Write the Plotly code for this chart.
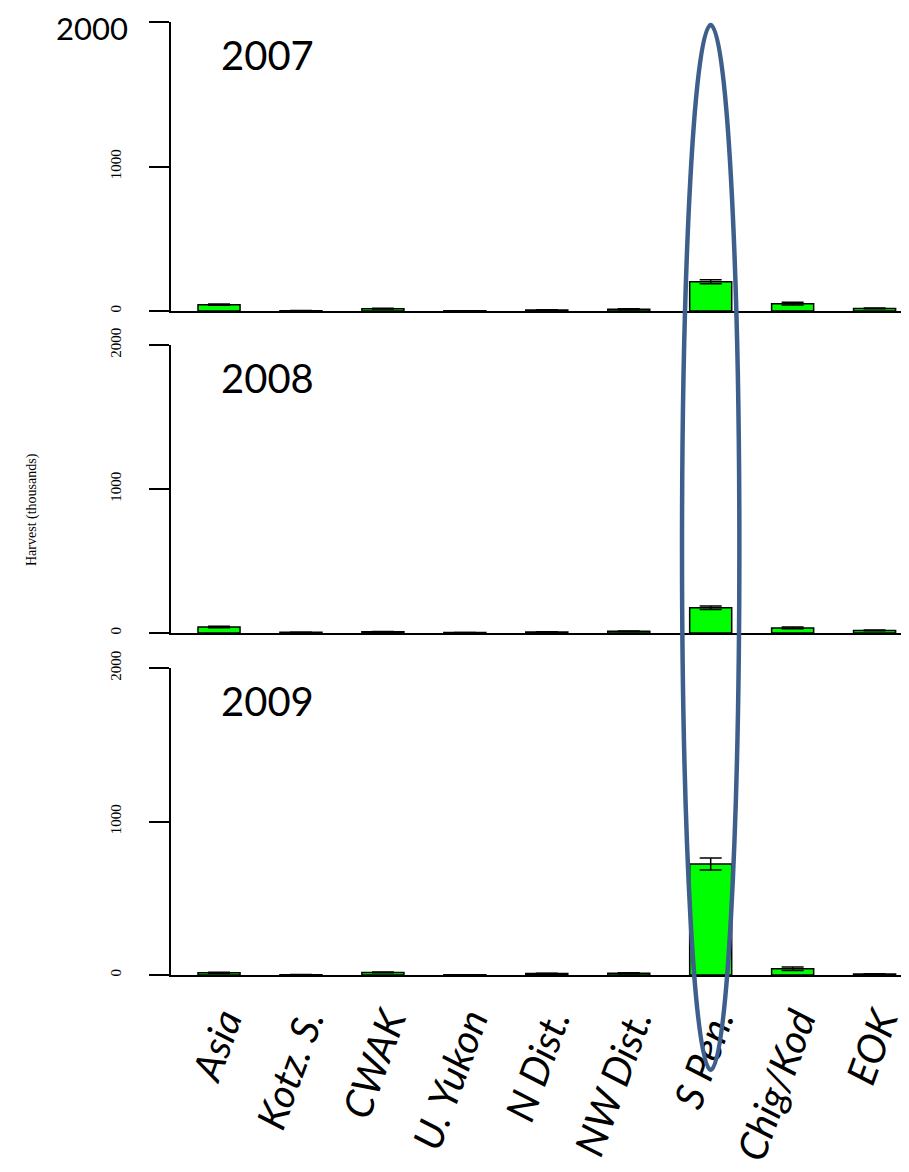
import plotly.graph_objects as go

categories = ["Asia", "Kotz. S.", "CWAK", "U. Yukon", "N Dist.", "NW Dist.", "S Pen.", "Chig/Kod", "EOK"]
years = ["2007", "2008", "2009"]
harvest_2007 = [44, 2, 16, 1, 7, 12, 203, 51, 18]
err_2007 = [5, 1, 3, 1, 2, 3, 14, 9, 3]
harvest_2008 = [42, 5, 9, 3, 7, 12, 176, 35, 18]
err_2008 = [5, 1, 2, 1, 2, 2, 12, 6, 3]
harvest_2009 = [15, 2, 17, 1, 9, 11, 723, 41, 6]
err_2009 = [3, 1, 3, 1, 2, 3, 39, 11, 2]
y_tick_vals = [0, 1000, 2000]
y_tick_text = ["0", "1000", "2000"]
y_title = "Harvest (thousands)"
highlight = "S Pen."

# page body has an 8px margin; size the figure so it fills the window
OFF = 8
W, H = 909 - OFF, 1172 - OFF


def px_x(x):
    return (x - OFF) / W


def px_y(y):
    return (H - (y - OFF)) / H


series = [harvest_2007, harvest_2008, harvest_2009]
errors = [err_2007, err_2008, err_2009]
# panel pixel positions (y of 2000, y of 0) in window pixels
panels_px = [(22, 311), (345, 633), (668, 975)]

fig = go.Figure()
for i, (vals, errs) in enumerate(zip(series, errors)):
    n = "" if i == 0 else str(i + 1)
    fig.add_trace(go.Bar(
        x=categories, y=vals,
        xaxis="x" + n, yaxis="y" + n,
        marker=dict(color="#00FF00", line=dict(color="black", width=1.5)),
        error_y=dict(type="data", array=errs, color="black", thickness=1.5, width=11),
        showlegend=False,
    ))

x_left, x_right = 171, 909
xrange = [-0.586, 8.42]
layout = dict(
    width=W, height=H,
    margin=dict(l=0, r=0, t=0, b=0, autoexpand=False),
    paper_bgcolor="white", plot_bgcolor="white",
    bargap=0.487,
    showlegend=False,
)
annotations = []
for i, (top, bot) in enumerate(panels_px):
    n = "" if i == 0 else str(i + 1)
    ydom = [px_y(bot), px_y(top)]
    last = i == 2
    layout["xaxis" + n] = dict(
        domain=[px_x(x_left), min(1.0, px_x(x_right))], range=xrange, anchor="y" + n,
        type="category", showline=True, linecolor="black", linewidth=1.5,
        ticks="", showgrid=False, zeroline=False, automargin=False,
        showticklabels=last, tickangle=-70,
        tickfont=dict(family="Lato", size=40, color="black", style="italic"),
        ticklabelstandoff=5, ticklabelshift=5,
    )
    ttext = list(y_tick_text)
    if i == 0:
        ttext[-1] = ""
    layout["yaxis" + n] = dict(
        domain=ydom, range=[0, 2000], anchor="x" + n,
        showline=True, linecolor="black", linewidth=2,
        ticks="outside", ticklen=20, tickwidth=1.5, tickcolor="black",
        tickvals=y_tick_vals, ticktext=ttext, tickangle=-90,
        tickfont=dict(family="Liberation Serif", size=15, color="black"),
        ticklabelstandoff=22, automargin=False,
        showgrid=False, zeroline=False,
    )
    annotations.append(dict(
        text=years[i], xref="paper", yref="paper",
        x=px_x(267), y=px_y(top + 33), xanchor="center", yanchor="middle",
        showarrow=False, font=dict(family="Lato", size=40, color="black"),
    ))

annotations.append(dict(
    text="2000", xref="paper", yref="paper", x=px_x(92), y=1.0,
    xanchor="center", yanchor="top", showarrow=False,
    font=dict(family="Lato", size=31, color="black"),
    borderpad=0,
))
annotations.append(dict(
    text=y_title, xref="paper", yref="paper", x=px_x(32), y=px_y(510),
    xanchor="center", yanchor="middle", showarrow=False, textangle=-90,
    font=dict(family="Liberation Serif", size=14, color="black"),
))
layout["annotations"] = annotations

idx = categories.index(highlight)
layout["shapes"] = [dict(
    type="circle", xref="x3", yref="paper",
    x0=idx - 0.35, x1=idx + 0.35,
    y0=px_y(1070), y1=px_y(25),
    line=dict(color="#3E5F8C", width=4.5), fillcolor="rgba(0,0,0,0)",
    layer="above",
)]

fig.update_layout(**layout)
fig.write_html("out.html")
